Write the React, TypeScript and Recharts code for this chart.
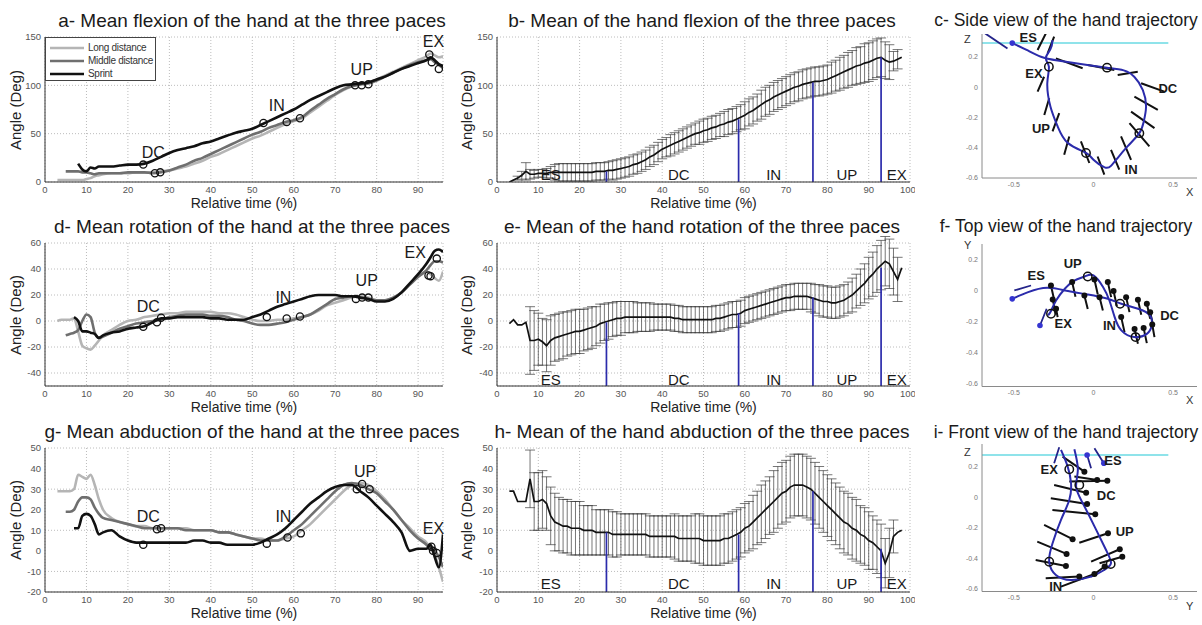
import React from 'react';
import {
  ComposedChart, Line, Scatter, XAxis, YAxis, CartesianGrid, ErrorBar,
  ReferenceLine, ReferenceDot, Label,
} from 'recharts';

const FONT = '"Liberation Sans", Arial, Helvetica, sans-serif';

// ---------- left column : the three paces ----------
const paceTime = [3, 4, 5, 6, 7, 8, 9, 10, 11, 12, 13, 14, 16, 18, 20, 22, 24, 26, 28, 30, 32, 34, 36, 38, 40, 42, 44, 46, 48, 50, 52, 54, 56, 58, 60, 62, 64, 66, 68, 70, 72, 74, 76, 78, 80, 82, 84, 86, 88, 90, 92, 93, 94, 95, 96];

const flexLong = [2, 2, 2, 2, 2, 2, 2, 3, 4, 6, 7, 8, 9, 9, 9, 10, 10, 10, 11, 12, 14, 16, 19, 22, 26, 29, 33, 37, 41, 45, 48, 52, 56, 60, 63, 66, 72, 78, 84, 90, 95, 99, 101, 103, 106, 110, 114, 118, 122, 126, 130, 133, 131, 129, 130];
const flexMiddle = [null, null, 11, 11, 11, 11, 10, 10, 9, 8, 9, 9, 9, 9, 10, 10, 10, 9, 10, 12, 15, 18, 22, 25, 29, 33, 37, 41, 45, 49, 52, 56, 59, 62, 64, 67, 74, 80, 86, 91, 96, 99, 101, 102, 105, 109, 113, 117, 121, 124, 126, 127, 124, 121, 118];
const flexSprint = [null, null, null, null, null, 19, 13, 11, 15, 14, 16, 16, 16, 17, 18, 18, 19, 22, 26, 30, 33, 35, 37, 40, 42, 45, 48, 51, 53, 55, 59, 63, 67, 71, 75, 80, 85, 89, 93, 97, 100, 101, 102, 103, 106, 109, 113, 117, 120, 123, 126, 129, 126, 122, 120];

const rotLong = [0, 1, 1, 1, 2, -8, -19, -21, -22, -19, -15, -11, -7, -3, 0, 1, 3, 4, 5, 6, 6, 7, 7, 7, 7, 6, 6, 5, 3, 1, 0, 0, 1, 1, 2, 3, 5, 8, 12, 14, 16, 18, 19, 18, 16, 16, 18, 22, 28, 34, 38, 36, 33, 31, 38];
const rotMiddle = [null, null, -11, -10, -9, -7, 0, 5, 3, -9, -13, -12, -9, -6, -4, -2, -1, 0, 1, 3, 4, 5, 5, 5, 4, 4, 3, 1, 0, -2, -3, -3, -2, -1, 1, 3, 5, 9, 13, 17, 18, 19, 18, 17, 16, 16, 18, 22, 28, 34, 39, 43, 46, 46, 45];
const rotSprint = [null, null, null, null, 3, 0, -8, -8, -9, -10, -13, -11, -9, -8, -6, -5, -4, -1, 2, 2, 3, 3, 3, 3, 2, 2, 1, 1, 1, 3, 5, 8, 11, 13, 15, 17, 19, 20, 20, 20, 19, 19, 18, 17, 15, 15, 17, 22, 29, 36, 44, 49, 54, 55, 53];

const abdLong = [29, 29, 29, 29, 30, 37, 36, 35, 37, 32, 25, 20, 16, 14, 13, 12, 12, 11, 11, 11, 11, 11, 10, 10, 10, 9, 9, 8, 7, 6, 6, 5, 5, 6, 7, 10, 13, 17, 21, 25, 29, 32, 33, 32, 29, 25, 20, 15, 11, 7, 4, 1, -2, -8, -15];
const abdMiddle = [null, null, 19, 19, 20, 24, 26, 26, 25, 21, 18, 16, 15, 14, 13, 12, 11, 11, 11, 11, 11, 10, 10, 10, 10, 9, 9, 8, 7, 6, 5, 5, 5, 7, 10, 13, 17, 21, 25, 29, 32, 33, 32, 30, 28, 24, 20, 15, 10, 6, 3, 1, 0, -3, -8];
const abdSprint = [null, null, null, null, 11, 11, 17, 18, 17, 13, 8, 9, 10, 7, 5, 4, 4, 4, 4, 4, 4, 4, 5, 5, 4, 4, 3, 3, 3, 3, 4, 6, 8, 11, 15, 19, 23, 26, 29, 31, 32, 32, 29, 26, 22, 18, 14, 9, 0, 1, 1, 3, -3, -8, 8];

const flexMarks = [{ t: 23.7, v: 18 }, { t: 26.5, v: 9 }, { t: 27.8, v: 10 }, { t: 52.7, v: 61 }, { t: 58.3, v: 62 }, { t: 61.5, v: 66 }, { t: 74.8, v: 100 }, { t: 76.4, v: 100 }, { t: 78, v: 101 }, { t: 92.7, v: 132 }, { t: 93.3, v: 124 }, { t: 95, v: 117 }];
const rotMarks = [{ t: 23.7, v: -4.5 }, { t: 27, v: -1 }, { t: 28, v: 2.5 }, { t: 53.5, v: 3 }, { t: 58.3, v: 2 }, { t: 61.5, v: 3.5 }, { t: 75, v: 17 }, { t: 76.5, v: 18 }, { t: 78, v: 18 }, { t: 92.5, v: 35 }, { t: 93, v: 34.5 }, { t: 94.5, v: 48 }];
const abdMarks = [{ t: 23.7, v: 3 }, { t: 27, v: 10.5 }, { t: 28, v: 11 }, { t: 53.5, v: 3.5 }, { t: 58.5, v: 6.5 }, { t: 61.7, v: 8.5 }, { t: 75.2, v: 30 }, { t: 76.5, v: 32.5 }, { t: 78.3, v: 30 }, { t: 93.2, v: 2 }, { t: 93.6, v: 0 }, { t: 94.5, v: -1 }];

const flexTags = [{ t: 26.1, v: 31, text: 'DC' }, { t: 55.9, v: 79, text: 'IN' }, { t: 76.4, v: 117, text: 'UP' }, { t: 93.7, v: 146, text: 'EX' }];
const rotTags = [{ t: 24.9, v: 11, text: 'DC' }, { t: 57.5, v: 18.6, text: 'IN' }, { t: 77.6, v: 31, text: 'UP' }, { t: 89.3, v: 53, text: 'EX' }];
const abdTags = [{ t: 24.9, v: 16.6, text: 'DC' }, { t: 57.5, v: 16.6, text: 'IN' }, { t: 77.2, v: 38.6, text: 'UP' }, { t: 93.7, v: 11, text: 'EX' }];

// ---------- middle column : mean and SD ----------
const stepTime = [3, 4, 5, 6, 7, 8, 9, 10, 11, 12, 13, 14, 15, 16, 17, 18, 19, 20, 21, 22, 23, 24, 25, 26, 27, 28, 29, 30, 31, 32, 33, 34, 35, 36, 37, 38, 39, 40, 41, 42, 43, 44, 45, 46, 47, 48, 49, 50, 51, 52, 53, 54, 55, 56, 57, 58, 59, 60, 61, 62, 63, 64, 65, 66, 67, 68, 69, 70, 71, 72, 73, 74, 75, 76, 77, 78, 79, 80, 81, 82, 83, 84, 85, 86, 87, 88, 89, 90, 91, 92, 93, 94, 95, 96, 97, 98];

const flexMean = [0, 2, 4, 7, 11, 8, 8, 9, 9, 9, 10, 10, 10, 10, 10, 10, 10, 10, 10, 10, 10, 11, 11, 11, 12, 12, 13, 14, 15, 16, 18, 19, 21, 23, 26, 28, 31, 34, 36, 38, 40, 42, 44, 46, 48, 50, 51, 53, 54, 56, 57, 59, 60, 62, 63, 65, 67, 69, 72, 74, 77, 80, 83, 85, 88, 90, 92, 94, 96, 98, 99, 101, 102, 103, 104, 104, 105, 106, 108, 110, 112, 114, 116, 118, 120, 121, 123, 124, 126, 128, 129, 126, 124, 125, 127, 129];
const flexSd = [null, null, 2, 4, 9, 5, 4, 4, 4, 5, 6, 8, 9, 9, 9, 9, 9, 9, 9, 9, 9, 9, 9, 9, 9, 10, 10, 10, 10, 10, 10, 10, 10, 10, 10, 10, 10, 10, 10, 11, 11, 11, 11, 11, 11, 11, 12, 12, 12, 12, 12, 12, 13, 13, 13, 13, 13, 14, 14, 14, 14, 15, 15, 15, 15, 15, 15, 15, 15, 15, 15, 15, 15, 15, 15, 15, 15, 15, 16, 16, 17, 17, 18, 18, 19, 19, 20, 20, 20, 20, 20, 19, 18, 10, 10, null];

const rotMean = [-2, 1, -3, -3, -1, -15, -15, -14, -16, -19, -15, -13, -12, -11, -10, -9, -8, -8, -7, -6, -5, -4, -2, -1, 0, 1, 2, 2, 3, 3, 3, 3, 3, 3, 3, 3, 3, 3, 3, 3, 2, 2, 1, 1, 1, 1, 1, 1, 1, 1, 2, 2, 3, 4, 5, 5, 6, 8, 9, 10, 11, 12, 13, 14, 15, 16, 17, 18, 18, 19, 19, 19, 19, 18, 17, 16, 15, 15, 14, 14, 15, 16, 18, 20, 23, 26, 29, 33, 36, 40, 43, 46, 44, 38, 32, 41];
const rotSd = [null, null, null, null, null, 26, 23, 20, 18, 20, 19, 18, 18, 18, 17, 17, 17, 17, 16, 16, 16, 15, 15, 14, 14, 13, 13, 13, 12, 12, 12, 11, 11, 11, 11, 10, 10, 10, 10, 10, 10, 10, 10, 10, 10, 10, 10, 10, 10, 10, 10, 10, 10, 10, 10, 10, 10, 10, 10, 10, 10, 10, 10, 10, 10, 10, 10, 10, 10, 10, 10, 10, 10, 11, 11, 12, 12, 12, 12, 12, 12, 12, 12, 13, 13, 14, 15, 16, 17, 18, 19, 19, 19, 18, 17, null];

const abdMean = [29, 29, 24, 24, 24, 35, 24, 24, 25, 23, 17, 14, 13, 12, 12, 11, 11, 11, 10, 10, 10, 9, 9, 9, 9, 8, 8, 8, 8, 8, 8, 8, 8, 8, 7, 7, 7, 7, 7, 7, 7, 6, 6, 6, 6, 6, 6, 5, 5, 5, 5, 5, 6, 6, 7, 8, 9, 11, 12, 14, 16, 18, 20, 22, 24, 26, 28, 29, 31, 32, 32, 32, 31, 30, 28, 26, 24, 22, 20, 18, 16, 14, 13, 11, 10, 8, 7, 5, 4, 2, 0, -6, -1, 7, 9, 10];
const abdSd = [null, null, null, null, null, 14, 14, 14, 14, 13, 14, 14, 13, 13, 13, 13, 13, 13, 12, 12, 12, 11, 11, 11, 11, 11, 11, 10, 10, 10, 10, 10, 10, 10, 10, 10, 10, 10, 10, 10, 11, 11, 11, 11, 11, 12, 12, 12, 12, 12, 12, 12, 12, 12, 12, 12, 12, 12, 12, 13, 13, 14, 14, 14, 15, 15, 15, 15, 15, 15, 15, 15, 15, 15, 15, 15, 15, 15, 15, 15, 15, 15, 15, 15, 15, 14, 14, 14, 13, 13, 13, 12, 12, 8, null, null];

const phaseTime = [26.5, 58.5, 76.5, 93];
const flexPhaseTop = [11, 65, 103, 129];
const rotPhaseTop = [-1, 6, 18, 41];
const abdPhaseTop = [9, 8, 29, 1];
const phaseNames = ['ES', 'DC', 'IN', 'UP', 'EX'];
const phaseLabelTime = [13, 44, 67, 84.7, 96.8];

// ---------- right column : trajectories ----------
const sideCurve = [[-0.51, 0.29], [-0.42, 0.245], [-0.33, 0.2], [-0.225, 0.175], [-0.08, 0.152], [0.085, 0.128], [0.19, 0.11], [0.256, 0.068], [0.31, -0.02], [0.33, -0.13], [0.315, -0.23], [0.288, -0.304], [0.215, -0.39], [0.15, -0.47], [0.11, -0.52], [0.07, -0.53], [0.0, -0.48], [-0.047, -0.435], [-0.16, -0.37], [-0.225, -0.26], [-0.27, -0.13], [-0.29, 0.025], [-0.28, 0.134], [-0.3, 0.19], [-0.27, 0.25], [-0.257, 0.31]];
const sideArrow = [[-0.68, 0.354, -0.54, 0.255]];
const sideTicks = [[-0.351, 0.244, -0.299, 0.354], [-0.288, 0.222, -0.247, 0.332], [-0.236, 0.189, -0.068, 0.124], [-0.036, 0.145, 0.131, 0.112], [0.152, 0.08, 0.278, 0.101], [0.299, 0.025, 0.445, -0.03], [0.257, -0.063, 0.404, -0.151], [0.236, -0.162, 0.383, -0.271], [0.226, -0.238, 0.351, -0.392], [0.173, -0.326, 0.236, -0.48], [0.11, -0.414, 0.162, -0.545], [0.026, -0.458, 0.068, -0.578], [-0.079, -0.359, -0.026, -0.501], [-0.184, -0.447, -0.152, -0.326], [-0.257, -0.293, -0.215, -0.172], [-0.309, -0.184, -0.278, -0.074], [-0.351, -0.03, -0.31, 0.068]];
const sideRings = [[-0.28, 0.134], [0.085, 0.128], [0.288, -0.304], [-0.047, -0.435]];
const sideStart = [[-0.51, 0.29]];
const sideTags = [{ x: -0.41, y: 0.33, text: 'ES' }, { x: -0.374, y: 0.091, text: 'EX' }, { x: 0.467, y: -0.008, text: 'DC' }, { x: -0.33, y: -0.271, text: 'UP' }, { x: 0.236, y: -0.545, text: 'IN' }];

const topCurve = [[-0.51, -0.054], [-0.41, -0.011], [-0.29, 0.017], [-0.16, -0.004], [-0.035, -0.026], [0.09, -0.054], [0.175, -0.086], [0.28, -0.118], [0.355, -0.161], [0.365, -0.226], [0.335, -0.28], [0.255, -0.301], [0.175, -0.258], [0.133, -0.172], [0.1, -0.065], [0.06, 0.022], [0.0, 0.097], [-0.055, 0.09], [-0.12, 0.064], [-0.18, 0.011], [-0.235, -0.065], [-0.265, -0.129], [-0.285, -0.161]];
const topArrows = [[-0.497, 0, -0.392, 0.032], [-0.294, -0.118, -0.336, -0.226]];
const topPins = [[-0.267, 0.032, -0.246, -0.065], [-0.256, -0.058, -0.235, -0.155], [-0.235, -0.118, -0.225, -0.172], [-0.134, 0.054, -0.113, -0.041], [-0.057, -0.032, -0.036, -0.12], [0.006, 0.071, 0.027, -0.026], [0.038, -0.043, 0.059, -0.13], [0.09, 0.054, 0.111, -0.043], [0.126, -0.004, 0.147, -0.101], [0.174, -0.172, 0.195, -0.269], [0.205, -0.043, 0.226, -0.14], [0.279, -0.06, 0.3, -0.157], [0.335, -0.086, 0.356, -0.183], [0.356, -0.14, 0.377, -0.237], [0.369, -0.22, 0.383, -0.301], [0.258, -0.248, 0.279, -0.344], [0.315, -0.243, 0.335, -0.34]];
const topRings = [[-0.267, -0.15], [-0.036, 0.09], [0.167, -0.086], [0.264, -0.301]];
const topStart = [[-0.51, -0.054], [-0.336, -0.226]];
const topTags = [{ x: -0.36, y: 0.097, text: 'ES' }, { x: -0.13, y: 0.172, text: 'UP' }, { x: -0.19, y: -0.215, text: 'EX' }, { x: 0.1, y: -0.226, text: 'IN' }, { x: 0.478, y: -0.161, text: 'DC' }];

const frontCurve = [[-0.204, 0.311], [-0.162, 0.201], [-0.141, 0.092], [-0.152, -0.018], [-0.204, -0.149], [-0.257, -0.303], [-0.278, -0.423], [-0.236, -0.511], [-0.141, -0.544], [-0.015, -0.522], [0.068, -0.478], [0.11, -0.434], [0.079, -0.347], [0.007, -0.193], [-0.067, -0.04], [-0.109, 0.07], [-0.098, 0.18], [-0.12, 0.316]];
const frontArrows = [[-0.215, 0.329, -0.247, 0.224], [-0.04, 0.278, -0.015, 0.191], [0.006, 0.322, 0.065, 0.224]];
const frontPins = [[-0.057, 0.168, -0.194, 0.267], [0.023, 0.114, -0.12, 0.136], [0.087, 0.109, -0.152, 0.103], [-0.046, 0.03, -0.247, 0.081], [-0.04, -0.044, -0.268, -0.007], [0.011, -0.112, -0.258, -0.084], [-0.131, -0.276, -0.31, -0.182], [0.091, -0.237, -0.089, -0.299], [-0.169, -0.373, -0.353, -0.292], [0.165, -0.342, -0.015, -0.424], [-0.173, -0.452, -0.363, -0.413], [0.181, -0.391, 0.038, -0.434], [-0.089, -0.522, -0.3, -0.533], [0.006, -0.505, -0.204, -0.588], [0.07, -0.456, -0.015, -0.522]];
const frontRings = [[-0.152, 0.184], [-0.089, 0.081], [-0.278, -0.424], [0.108, -0.439]];
const frontStart = [[-0.04, 0.278], [0.065, 0.224]];
const frontTags = [{ x: -0.278, y: 0.18, text: 'EX' }, { x: 0.122, y: 0.245, text: 'ES' }, { x: 0.08, y: 0.015, text: 'DC' }, { x: 0.196, y: -0.226, text: 'UP' }, { x: -0.237, y: -0.588, text: 'IN' }];

const LONG = '#b5b5b5';
const MIDDLE = '#6f6f6f';
const SPRINT = '#111111';
const BLUE = '#2b2bab';

const pts = (arr: number[][]) => arr.map(([x, y]) => ({ x, y }));
const segs = (arr: number[][]) =>
  arr.flatMap(([x1, y1, x2, y2]) => [{ x: x1, y: y1 }, { x: x2, y: y2 }, { x: x2, y: null as number | null }]);

function Title({ cx, cy, size, children }: { cx: number; cy: number; size: number; children: React.ReactNode }) {
  return (
    <div style={{
      position: 'absolute', left: cx, top: cy - size * 0.55, transform: 'translateX(-50%)',
      fontSize: size, lineHeight: `${size * 1.1}px`, fontFamily: FONT, color: '#1a1a1a', whiteSpace: 'nowrap',
    }}>{children}</div>
  );
}

function YTitle({ cx, cy, children }: { cx: number; cy: number; children: React.ReactNode }) {
  return (
    <div style={{
      position: 'absolute', left: cx, top: cy, transform: 'translate(-50%, -50%) rotate(-90deg)',
      fontSize: 15, fontFamily: FONT, color: '#222', whiteSpace: 'nowrap',
    }}>{children}</div>
  );
}

function AxisName({ x, y, children }: { x: number; y: number; children: React.ReactNode }) {
  return (
    <div style={{ position: 'absolute', left: x - 5, top: y - 6, fontSize: 11, lineHeight: '12px', fontFamily: FONT, color: '#333' }}>{children}</div>
  );
}

const openRing = (p: any) => <circle cx={p.cx} cy={p.cy} r={3.6} fill="none" stroke="#111" strokeWidth={1.3} />;
const tickStyle = { fontSize: 9.5, fill: '#555', fontFamily: FONT };
const timeTicks = [0, 10, 20, 30, 40, 50, 60, 70, 80, 90];

interface PaceProps {
  top: number; h: number; title: string; domain: [number, number]; ticks: number[];
  long: (number | null)[]; mid: (number | null)[]; sprint: (number | null)[];
  marks: { t: number; v: number }[]; tags: { t: number; v: number; text: string }[];
}

function PacePanel({ top, h, title, domain, ticks, long, mid, sprint, marks, tags }: PaceProps) {
  const rows = paceTime.map((t, i) => ({ t, long: long[i], mid: mid[i], sprint: sprint[i] }));
  return (
    <>
      <Title cx={252} cy={top - 15.5} size={19}>{title}</Title>
      <YTitle cx={15} cy={top + h / 2}>Angle (Deg)</YTitle>
      <div style={{ position: 'absolute', left: 0, top: top - 10 }}>
        <ComposedChart width={445} height={h + 41} data={rows} margin={{ top: 10, right: 2, bottom: 5, left: 0 }}>
          <CartesianGrid stroke="#bcbcbc" strokeDasharray="1 2" />
          <XAxis type="number" dataKey="t" domain={[0, 96]} ticks={timeTicks} allowDataOverflow
            tickSize={0} tickMargin={4} tick={tickStyle} stroke="#333" height={26}>
            <Label value="Relative time (%)" position="insideBottom" offset={0} fontSize={14} fill="#222" fontFamily={FONT} />
          </XAxis>
          <YAxis type="number" domain={domain} ticks={ticks} allowDataOverflow width={45}
            tickSize={0} tickMargin={4} tick={tickStyle} stroke="#333" />
          <Line dataKey="long" type="monotone" stroke={LONG} strokeWidth={2.6} dot={false} isAnimationActive={false} />
          <Line dataKey="mid" type="monotone" stroke={MIDDLE} strokeWidth={2.6} dot={false} isAnimationActive={false} />
          <Line dataKey="sprint" type="monotone" stroke={SPRINT} strokeWidth={2.6} dot={false} isAnimationActive={false} />
          <Scatter data={marks} dataKey="v" shape={openRing} isAnimationActive={false} />
          {tags.map((g) => (
            <ReferenceDot key={g.text} x={g.t} y={g.v} r={0} ifOverflow="visible" stroke="none"
              label={{ value: g.text, position: 'center', fontSize: 16, fill: '#1a1a1a', fontFamily: FONT }} />
          ))}
        </ComposedChart>
      </div>
    </>
  );
}

function PaceLegend() {
  const items = [['Long distance', LONG], ['Middle distance', MIDDLE], ['Sprint', SPRINT]];
  return (
    <div style={{
      position: 'absolute', left: 45, top: 37, width: 111, height: 44, background: '#fff',
      border: '1px solid #444', boxSizing: 'border-box', paddingTop: 3,
    }}>
      {items.map(([name, c]) => (
        <div key={name} style={{ display: 'flex', alignItems: 'center', height: 13 }}>
          <svg width={38} height={8} style={{ marginLeft: 4 }}>
            <line x1={0} y1={4} x2={34} y2={4} stroke={c} strokeWidth={2.6} />
          </svg>
          <span style={{ fontSize: 10, fontFamily: FONT, color: '#333', letterSpacing: -0.3 }}>{name}</span>
        </div>
      ))}
    </div>
  );
}

interface MeanProps {
  top: number; h: number; title: string; domain: [number, number]; ticks: number[];
  mean: number[]; sd: (number | null)[]; phaseTop: number[]; labelY: number;
}

function MeanPanel({ top, h, title, domain, ticks, mean, sd, phaseTop, labelY }: MeanProps) {
  const rows = stepTime.map((t, i) => ({ t, mean: mean[i], sd: sd[i] }));
  return (
    <>
      <Title cx={702} cy={top - 15.5} size={19}>{title}</Title>
      <YTitle cx={466} cy={top + h / 2}>Angle (Deg)</YTitle>
      <div style={{ position: 'absolute', left: 452, top: top - 10 }}>
        <ComposedChart width={463} height={h + 41} data={rows} margin={{ top: 10, right: 5, bottom: 5, left: 0 }}>
          <CartesianGrid stroke="#bcbcbc" strokeDasharray="1 2" />
          <XAxis type="number" dataKey="t" domain={[0, 100]} ticks={[...timeTicks, 100]} allowDataOverflow
            tickSize={0} tickMargin={4} tick={tickStyle} stroke="#333" height={26}>
            <Label value="Relative time (%)" position="insideBottom" offset={0} fontSize={14} fill="#222" fontFamily={FONT} />
          </XAxis>
          <YAxis type="number" domain={domain} ticks={ticks} allowDataOverflow width={45}
            tickSize={0} tickMargin={4} tick={tickStyle} stroke="#333" />
          <Line dataKey="mean" type="linear" stroke="#111" strokeWidth={1.7} dot={false} isAnimationActive={false}>
            <ErrorBar dataKey="sd" width={5} stroke="#3c3c3c" strokeWidth={0.7} direction="y" isAnimationActive={false} />
          </Line>
          {phaseTime.map((p, i) => (
            <ReferenceLine key={p} segment={[{ x: p, y: domain[0] }, { x: p, y: phaseTop[i] }]} stroke={BLUE} strokeWidth={1.7} />
          ))}
          {phaseNames.map((n, i) => (
            <ReferenceDot key={n} x={phaseLabelTime[i]} y={labelY} r={0} ifOverflow="visible" stroke="none"
              label={{ value: n, position: 'center', fontSize: 15, fill: '#1a1a1a', fontFamily: FONT }} />
          ))}
        </ComposedChart>
      </div>
    </>
  );
}

interface TrajProps {
  top: number; h: number; title: string; titleCy: number; yDomain: [number, number];
  curve: number[][]; arrows: number[][]; pins: number[][]; pinDots: boolean;
  rings: number[][]; starts: number[][]; tags: { x: number; y: number; text: string }[];
  cyan: number | null; xName: string; yName: string; yNameTop: number;
}

function TrajPanel({ top, h, title, titleCy, yDomain, curve, arrows, pins, pinDots, rings, starts, tags, cyan, xName, yName, yNameTop }: TrajProps) {
  const small = { fontSize: 7, fill: '#777', fontFamily: FONT };
  return (
    <>
      <Title cx={1066} cy={titleCy} size={17.5}>{title}</Title>
      <AxisName x={969} y={yNameTop}>{yName}</AxisName>
      <AxisName x={1191} y={top + h + 14}>{xName}</AxisName>
      <div style={{ position: 'absolute', left: 952, top: top - 10 }}>
        <ComposedChart width={250} height={h + 26} margin={{ top: 10, right: 5, bottom: 0, left: 0 }}>
          <XAxis type="number" dataKey="x" domain={[-0.7, 0.65]} ticks={[-0.5, 0, 0.5]} allowDataOverflow
            tickSize={0} tickMargin={4} tick={small} stroke="#8a8a8a" height={16} />
          <YAxis type="number" domain={yDomain} ticks={[-0.6, -0.4, -0.2, 0, 0.2]} allowDataOverflow width={30}
            tickSize={0} tickMargin={4} tick={small} stroke="#8a8a8a" />
          {cyan !== null && (
            <ReferenceLine segment={[{ x: -0.7, y: cyan }, { x: 0.47, y: cyan }]} stroke="#8fe3ea" strokeWidth={2} />
          )}
          <Line data={segs(pins)} dataKey="y" type="linear" stroke="#111" strokeWidth={2} dot={false} isAnimationActive={false} />
          <Line data={pts(curve)} dataKey="y" type="natural" stroke={BLUE} strokeWidth={2} dot={false} isAnimationActive={false} />
          <Line data={segs(arrows)} dataKey="y" type="linear" stroke="#24248a" strokeWidth={1.8} dot={false} isAnimationActive={false} />
          {pinDots && (
            <Scatter data={pins.map(([x, y]) => ({ x, y }))} dataKey="y" fill="#111" shape={(p: any) => <circle cx={p.cx} cy={p.cy} r={3} fill="#111" />} isAnimationActive={false} />
          )}
          <Scatter data={pts(starts)} dataKey="y" shape={(p: any) => <circle cx={p.cx} cy={p.cy} r={2.8} fill="#3535d0" />} isAnimationActive={false} />
          <Scatter data={pts(rings)} dataKey="y" shape={(p: any) => <circle cx={p.cx} cy={p.cy} r={4.2} fill="none" stroke="#111" strokeWidth={1.5} />} isAnimationActive={false} />
          {tags.map((g) => (
            <ReferenceDot key={g.text} x={g.x} y={g.y} r={0} ifOverflow="visible" stroke="none"
              label={{ value: g.text, position: 'center', fontSize: 13, fontWeight: 'bold', fill: '#1a1a1a', fontFamily: FONT }} />
          ))}
        </ComposedChart>
      </div>
    </>
  );
}

export default function App() {
  return (
    <div style={{ position: 'fixed', left: 0, top: 0, width: 1202, height: 625, background: '#fff', overflow: 'hidden' }}>
      <PacePanel top={37} h={145} title="a- Mean flexion of the hand at the three paces" domain={[0, 150]} ticks={[0, 50, 100, 150]}
        long={flexLong} mid={flexMiddle} sprint={flexSprint} marks={flexMarks} tags={flexTags} />
      <PaceLegend />
      <PacePanel top={243} h={143} title="d- Mean rotation of the hand at the three paces" domain={[-50, 60]} ticks={[-40, -20, 0, 20, 40, 60]}
        long={rotLong} mid={rotMiddle} sprint={rotSprint} marks={rotMarks} tags={rotTags} />
      <PacePanel top={448} h={144} title="g- Mean abduction of the hand at the three paces" domain={[-20, 50]} ticks={[-20, -10, 0, 10, 20, 30, 40, 50]}
        long={abdLong} mid={abdMiddle} sprint={abdSprint} marks={abdMarks} tags={abdTags} />

      <MeanPanel top={37} h={145} title="b- Mean of the hand flexion of the three paces" domain={[0, 150]} ticks={[0, 50, 100, 150]}
        mean={flexMean} sd={flexSd} phaseTop={flexPhaseTop} labelY={8} />
      <MeanPanel top={243} h={143} title="e- Mean of the hand rotation of the three paces" domain={[-50, 60]} ticks={[-40, -20, 0, 20, 40, 60]}
        mean={rotMean} sd={rotSd} phaseTop={rotPhaseTop} labelY={-45} />
      <MeanPanel top={448} h={144} title="h- Mean of the hand abduction of the three paces" domain={[-20, 50]} ticks={[-20, -10, 0, 10, 20, 30, 40, 50]}
        mean={abdMean} sd={abdSd} phaseTop={abdPhaseTop} labelY={-16} />

      <TrajPanel top={34} h={144} title="c- Side view of the hand trajectory" titleCy={21} yDomain={[-0.6, 0.35]}
        curve={sideCurve} arrows={sideArrow} pins={sideTicks} pinDots={false} rings={sideRings} starts={sideStart}
        tags={sideTags} cyan={0.29} xName="X" yName="Z" yNameTop={39} />
      <TrajPanel top={243.5} h={142.5} title="f- Top view of the hand trajectory" titleCy={227} yDomain={[-0.62, 0.3]}
        curve={topCurve} arrows={topArrows} pins={topPins} pinDots={true} rings={topRings} starts={topStart}
        tags={topTags} cyan={null} xName="X" yName="Y" yNameTop={245} />
      <TrajPanel top={444} h={147.5} title="i- Front view of the hand trajectory" titleCy={433} yDomain={[-0.62, 0.35]}
        curve={frontCurve} arrows={frontArrows} pins={frontPins} pinDots={true} rings={frontRings} starts={frontStart}
        tags={frontTags} cyan={0.278} xName="Y" yName="Z" yNameTop={452} />
    </div>
  );
}
